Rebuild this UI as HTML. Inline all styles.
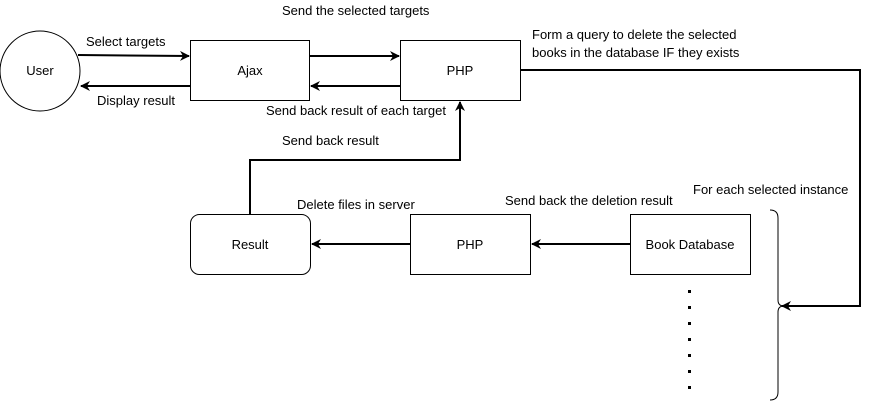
<!DOCTYPE html>
<html><head><style>
html,body{margin:0;padding:0;background:#fff;}
svg text{font-family:"Liberation Sans",Arial,sans-serif;font-size:13px;fill:#000;}
</style></head><body>
<svg width="870" height="401" viewBox="0 0 870 401" xmlns="http://www.w3.org/2000/svg">
<defs>
<marker id="a" viewBox="0 0 10 10" refX="9" refY="5" markerWidth="10" markerHeight="10" orient="auto" markerUnits="userSpaceOnUse">
<path d="M0,0 L10,5 L0,10 L3,5 Z" fill="#000"/>
</marker>
</defs>
<g fill="#fff" stroke="#000" stroke-width="1">
<circle cx="40" cy="71" r="40"/>
<rect x="190.5" y="40.5" width="119" height="60"/>
<rect x="400.5" y="40.5" width="120" height="60"/>
<rect x="190.5" y="214.5" width="120" height="60" rx="9"/>
<rect x="410.5" y="214.5" width="120" height="60"/>
<rect x="630.5" y="214.5" width="120" height="60"/>
</g>
<g stroke="#000" stroke-width="2" fill="none" marker-end="url(#a)">
<line x1="78" y1="55" x2="189" y2="56"/>
<line x1="190" y1="86" x2="81" y2="86"/>
<line x1="310" y1="56" x2="399" y2="56"/>
<line x1="400" y1="86" x2="311" y2="86"/>
<polyline points="250,214 250,160 460,160 460,102"/>
<polyline points="521,70 860,70 860,306 782,306"/>
<line x1="630" y1="244" x2="532" y2="244"/>
<line x1="410" y1="244" x2="312" y2="244"/>
</g>
<path d="M770,210 Q778,210 778,218 L778,300 Q778,306 784,306 Q778,306 778,312 L778,392 Q778,400 770,400" stroke="#000" fill="none"/>
<g fill="#000">
<rect x="688" y="290" width="3" height="3"/><rect x="688" y="306" width="3" height="3"/><rect x="688" y="322" width="3" height="3"/><rect x="688" y="338" width="3" height="3"/><rect x="688" y="354" width="3" height="3"/><rect x="688" y="370" width="3" height="3"/><rect x="688" y="386" width="3" height="3"/>
</g>
<text x="40" y="75" text-anchor="middle">User</text>
<text x="250" y="75" text-anchor="middle">Ajax</text>
<text x="460" y="75" text-anchor="middle">PHP</text>
<text x="250" y="249" text-anchor="middle">Result</text>
<text x="470" y="249" text-anchor="middle">PHP</text>
<text x="690" y="249" text-anchor="middle">Book Database</text>
<text x="86" y="46">Select targets</text>
<text x="97" y="105">Display result</text>
<text x="282" y="15">Send the selected targets</text>
<text x="266" y="115">Send back result of each target</text>
<text x="282" y="145">Send back result</text>
<text x="532" y="39">Form a query to delete the selected</text>
<text x="532" y="57">books in the database IF they exists</text>
<text x="693" y="194">For each selected instance</text>
<text x="297" y="209">Delete files in server</text>
<text x="505" y="205">Send back the deletion result</text>
</svg>
</body></html>
